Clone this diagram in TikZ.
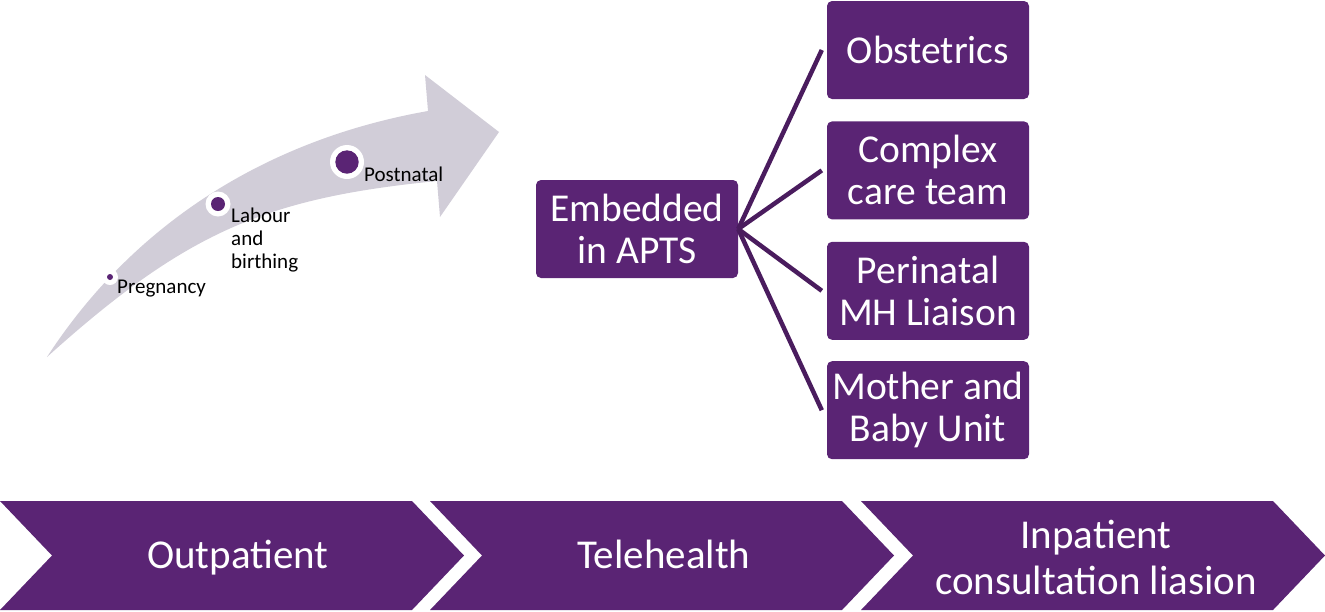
\documentclass[tikz,border=0pt]{standalone}
\usepackage{fontspec}
\setmainfont{Carlito}
\usetikzlibrary{calc,positioning}
\definecolor{apurple}{RGB}{90,36,116}
\definecolor{aline}{RGB}{74,28,94}
\definecolor{agrey}{RGB}{209,205,216}

\begin{document}
\begin{tikzpicture}[x=1pt,y=-1pt,
        box/.style={fill=apurple,rounded corners=5pt,minimum width=202pt,minimum height=98pt,
            inner sep=0pt,text=white,align=center,font=\fontsize{39.5}{42}\selectfont},
        chevtext/.style={text=white,align=center,font=\fontsize{41}{46}\selectfont},
        stage/.style={anchor=base west,inner sep=0pt,align=left,font=\fontsize{21}{23}\selectfont},
        dot/.style={circle,fill=white,inner sep=0pt},
        link/.style={draw=aline,line width=4.5pt}]
        \useasboundingbox (0,0) rectangle (1325,611);

        % curved arrow
        \coordinate (tail) at (47,357);
        \coordinate (up) at (428,111);
        \coordinate (lo) at (437,181);
        \fill[agrey] (tail) .. controls (138,217) and (275,138) .. (up)
            -- (425,75) -- (499,132) -- (440,217) -- (lo)
            .. controls (267,198) and (187,231) .. (tail) -- cycle;

        \node[dot,minimum size=16pt] (preg) at (110,277) {};
        \node[dot,minimum size=25pt] (lab) at (218,204) {};
        \node[dot,minimum size=34pt] (post) at (347,162) {};
        \fill[apurple] (preg) circle (3pt);
        \fill[apurple] (lab) circle (7pt);
        \fill[apurple] (post) circle (11.7pt);
        \node[stage] (pregtxt) at (117,293) {Pregnancy};
        \node[stage] (labtxt) at (231,268) {Labour\\and\\birthing};
        \node[stage] (posttxt) at (364,181) {Postnatal};

        % boxes
        \node[box] (emb) at (637,229) {Embedded\\in APTS};
        \node[box] (obs) at (928,50) {Obstetrics};
        \node[box,below=22pt of obs] (cct) {Complex\\care team};
        \node[box,below=22pt of cct] (pml) {Perinatal\\MH Liaison};
        \node[box,below=21pt of pml] (mbu) {Mother and\\Baby Unit};
        \foreach \n in {obs,cct,pml,mbu}
            \draw[link] (emb.east) -- ([xshift=-5pt]\n.west);

        % chevrons
        \foreach \dx in {0,430,861}
            \fill[apurple] (\dx,501) -- ++(412,0) -- ++(52,54.5) -- ++(-52,54.5)
                -- ++(-412,0) -- ++(52,-54.5) -- cycle;
        \node[chevtext,anchor=base] (outp) at (238,568) {Outpatient};
        \node[chevtext,anchor=base] (tele) at (664,568) {Telehealth};
        \node[chevtext] (inpt) at (1096,557) {Inpatient\\consultation liasion};
    \end{tikzpicture}
\end{document}
